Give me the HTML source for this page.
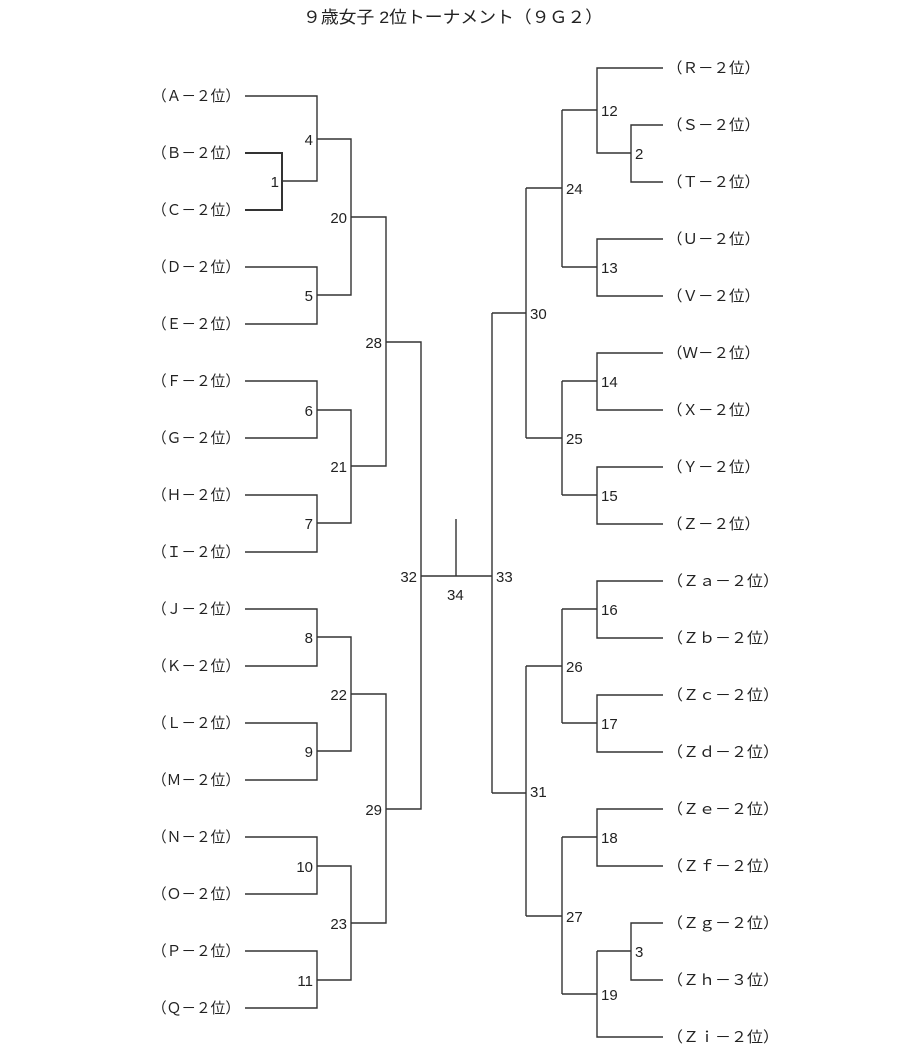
<!DOCTYPE html>
<html><head><meta charset="utf-8"><style>
html,body{margin:0;padding:0;background:#fff;}
svg{display:block;}
text{font-family:"Liberation Sans","Noto Sans CJK JP",sans-serif;fill:#222;}
.l{font-size:15px;}
.n{font-size:15px;}
path{stroke:#333;stroke-width:1.4;fill:none;}
</style></head><body>
<svg width="920" height="1060" viewBox="0 0 920 1060" xmlns="http://www.w3.org/2000/svg">
<text x="303" y="23" style="font-size:17px" textLength="300" lengthAdjust="spacingAndGlyphs">９歳女子 2位トーナメント（９Ｇ２）</text>

<!-- left labels -->
<g class="l">
<text x="152" y="101" textLength="88" lengthAdjust="spacingAndGlyphs">（Ａ－２位）</text>
<text x="152" y="158" textLength="88" lengthAdjust="spacingAndGlyphs">（Ｂ－２位）</text>
<text x="152" y="215" textLength="88" lengthAdjust="spacingAndGlyphs">（Ｃ－２位）</text>
<text x="152" y="272" textLength="88" lengthAdjust="spacingAndGlyphs">（Ｄ－２位）</text>
<text x="152" y="329" textLength="88" lengthAdjust="spacingAndGlyphs">（Ｅ－２位）</text>
<text x="152" y="386" textLength="88" lengthAdjust="spacingAndGlyphs">（Ｆ－２位）</text>
<text x="152" y="443" textLength="88" lengthAdjust="spacingAndGlyphs">（Ｇ－２位）</text>
<text x="152" y="500" textLength="88" lengthAdjust="spacingAndGlyphs">（Ｈ－２位）</text>
<text x="152" y="557" textLength="88" lengthAdjust="spacingAndGlyphs">（Ｉ－２位）</text>
<text x="152" y="614" textLength="88" lengthAdjust="spacingAndGlyphs">（Ｊ－２位）</text>
<text x="152" y="671" textLength="88" lengthAdjust="spacingAndGlyphs">（Ｋ－２位）</text>
<text x="152" y="728" textLength="88" lengthAdjust="spacingAndGlyphs">（Ｌ－２位）</text>
<text x="152" y="785" textLength="88" lengthAdjust="spacingAndGlyphs">（Ｍ－２位）</text>
<text x="152" y="842" textLength="88" lengthAdjust="spacingAndGlyphs">（Ｎ－２位）</text>
<text x="152" y="899" textLength="88" lengthAdjust="spacingAndGlyphs">（Ｏ－２位）</text>
<text x="152" y="956" textLength="88" lengthAdjust="spacingAndGlyphs">（Ｐ－２位）</text>
<text x="152" y="1013" textLength="88" lengthAdjust="spacingAndGlyphs">（Ｑ－２位）</text>
</g>
<!-- right labels -->
<g class="l">
<text x="667" y="73" textLength="93" lengthAdjust="spacingAndGlyphs">（Ｒ－２位）</text>
<text x="667" y="130" textLength="93" lengthAdjust="spacingAndGlyphs">（Ｓ－２位）</text>
<text x="667" y="187" textLength="93" lengthAdjust="spacingAndGlyphs">（Ｔ－２位）</text>
<text x="667" y="244" textLength="93" lengthAdjust="spacingAndGlyphs">（Ｕ－２位）</text>
<text x="667" y="301" textLength="93" lengthAdjust="spacingAndGlyphs">（Ｖ－２位）</text>
<text x="667" y="358" textLength="93" lengthAdjust="spacingAndGlyphs">（Ｗ－２位）</text>
<text x="667" y="415" textLength="93" lengthAdjust="spacingAndGlyphs">（Ｘ－２位）</text>
<text x="667" y="472" textLength="93" lengthAdjust="spacingAndGlyphs">（Ｙ－２位）</text>
<text x="667" y="529" textLength="93" lengthAdjust="spacingAndGlyphs">（Ｚ－２位）</text>
<text x="667" y="586" textLength="112" lengthAdjust="spacingAndGlyphs">（Ｚａ－２位）</text>
<text x="667" y="643" textLength="112" lengthAdjust="spacingAndGlyphs">（Ｚｂ－２位）</text>
<text x="667" y="700" textLength="112" lengthAdjust="spacingAndGlyphs">（Ｚｃ－２位）</text>
<text x="667" y="757" textLength="112" lengthAdjust="spacingAndGlyphs">（Ｚｄ－２位）</text>
<text x="667" y="814" textLength="112" lengthAdjust="spacingAndGlyphs">（Ｚｅ－２位）</text>
<text x="667" y="871" textLength="112" lengthAdjust="spacingAndGlyphs">（Ｚｆ－２位）</text>
<text x="667" y="928" textLength="112" lengthAdjust="spacingAndGlyphs">（Ｚｇ－２位）</text>
<text x="667" y="985" textLength="112" lengthAdjust="spacingAndGlyphs">（Ｚｈ－３位）</text>
<text x="667" y="1042" textLength="112" lengthAdjust="spacingAndGlyphs">（Ｚｉ－２位）</text>
</g>

<!-- left bracket lines -->
<path d="M245 96H317V181H282"/>
<path d="M245 153H282V210H245" style="stroke-width:2"/>
<path d="M317 139H351V295H317"/>
<path d="M245 267H317V324H245"/>
<path d="M351 217H386V466H351"/>
<path d="M245 381H317V438H245"/>
<path d="M317 410H351V523H317"/>
<path d="M245 495H317V552H245"/>
<path d="M386 342H421V809H386"/>
<path d="M245 609H317V666H245"/>
<path d="M317 637H351V751H317"/>
<path d="M245 723H317V780H245"/>
<path d="M351 694H386V923H351"/>
<path d="M245 837H317V894H245"/>
<path d="M317 866H351V980H317"/>
<path d="M245 951H317V1008H245"/>
<!-- center -->
<path d="M421 576H492"/>
<path d="M456 519V576"/>
<!-- right bracket lines -->
<path d="M492 313V793"/>
<path d="M492 313H526"/><path d="M492 793H526"/>
<path d="M526 188V438"/>
<path d="M526 188H562"/><path d="M526 438H562"/>
<path d="M562 110V267"/><path d="M562 110H597"/><path d="M562 267H597"/>
<path d="M663 68H597V153H631"/>
<path d="M663 125H631V182H663"/>
<path d="M663 239H597V296H663"/>
<path d="M562 381V495"/><path d="M562 381H597"/><path d="M562 495H597"/>
<path d="M663 353H597V410H663"/>
<path d="M663 467H597V524H663"/>
<path d="M526 666V916"/><path d="M526 666H562"/><path d="M526 916H562"/>
<path d="M562 609V723"/><path d="M562 609H597"/><path d="M562 723H597"/>
<path d="M663 581H597V638H663"/>
<path d="M663 695H597V752H663"/>
<path d="M562 837V994"/><path d="M562 837H597"/><path d="M562 994H597"/>
<path d="M663 809H597V866H663"/>
<path d="M597 951V1037H663"/><path d="M597 951H631"/>
<path d="M663 923H631V980H663"/>

<!-- numbers left -->
<g class="n" text-anchor="end">
<text x="313" y="145">4</text>
<text x="279" y="187">1</text>
<text x="313" y="301">5</text>
<text x="347" y="223">20</text>
<text x="313" y="416">6</text>
<text x="313" y="529">7</text>
<text x="347" y="472">21</text>
<text x="382" y="348">28</text>
<text x="313" y="643">8</text>
<text x="313" y="757">9</text>
<text x="347" y="700">22</text>
<text x="313" y="872">10</text>
<text x="313" y="986">11</text>
<text x="347" y="929">23</text>
<text x="382" y="815">29</text>
<text x="417" y="582">32</text>
</g>
<g class="n">
<text x="447" y="600">34</text>
<text x="496" y="582">33</text>
<text x="530" y="319">30</text>
<text x="530" y="797">31</text>
<text x="566" y="194">24</text>
<text x="566" y="444">25</text>
<text x="566" y="672">26</text>
<text x="566" y="922">27</text>
<text x="601" y="116">12</text>
<text x="601" y="273">13</text>
<text x="601" y="387">14</text>
<text x="601" y="501">15</text>
<text x="601" y="615">16</text>
<text x="601" y="729">17</text>
<text x="601" y="843">18</text>
<text x="601" y="1000">19</text>
<text x="635" y="159">2</text>
<text x="635" y="957">3</text>
</g>
</svg>
</body></html>
